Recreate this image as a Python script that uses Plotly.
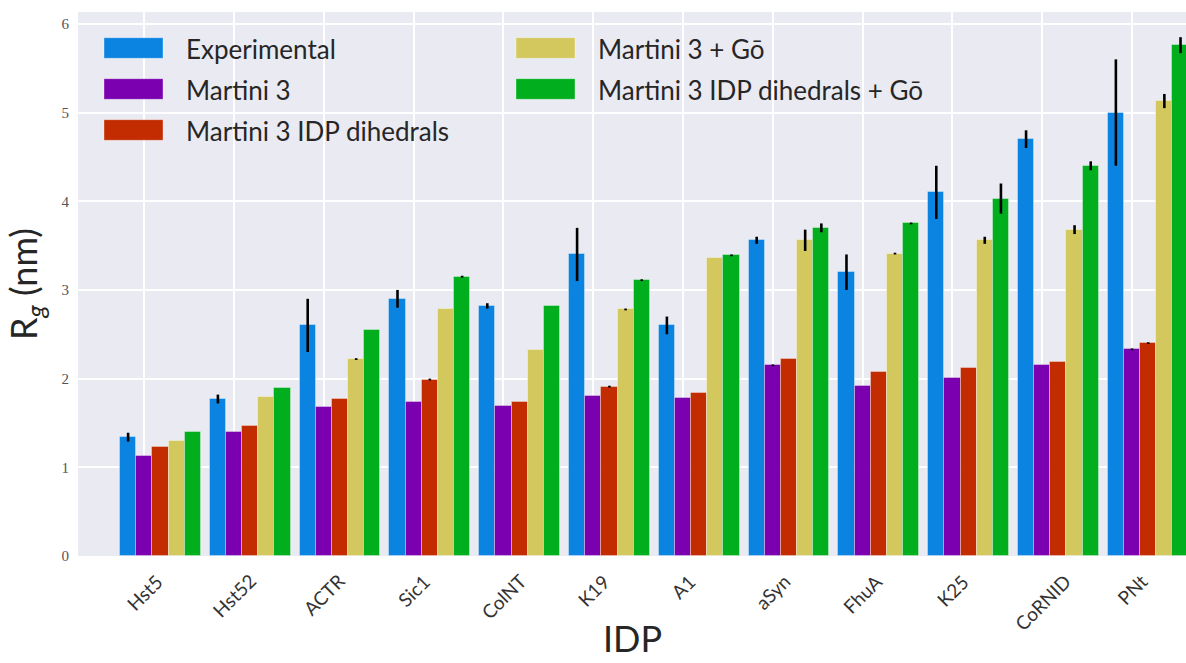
import plotly.graph_objects as go

# Radius of gyration per IDP for experiment and four Martini 3 variants
idps = ["Hst5", "Hst52", "ACTR", "Sic1", "ColNT", "K19", "A1", "aSyn",
        "FhuA", "K25", "CoRNID", "PNt"]

experimental = [1.34, 1.77, 2.60, 2.90, 2.82, 3.40, 2.60, 3.56, 3.20, 4.10, 4.70, 5.00]
experimental_err = [0.05, 0.05, 0.30, 0.10, 0.03, 0.30, 0.10, 0.04, 0.20, 0.30, 0.10, 0.60]

martini3 = [1.13, 1.40, 1.68, 1.74, 1.69, 1.80, 1.78, 2.15, 1.92, 2.01, 2.15, 2.33]
martini3_err = [0, 0, 0, 0, 0, 0, 0, 0.01, 0, 0, 0, 0.01]

idp_dihedrals = [1.23, 1.47, 1.77, 1.99, 1.74, 1.91, 1.84, 2.22, 2.08, 2.12, 2.19, 2.40]
idp_dihedrals_err = [0, 0, 0, 0.01, 0, 0.01, 0, 0, 0, 0, 0, 0.01]

martini3_go = [1.30, 1.79, 2.22, 2.79, 2.32, 2.78, 3.36, 3.56, 3.41, 3.56, 3.68, 5.13]
martini3_go_err = [0, 0, 0.01, 0, 0, 0.01, 0, 0.12, 0.01, 0.04, 0.05, 0.08]

idp_dihedrals_go = [1.40, 1.90, 2.55, 3.15, 2.82, 3.11, 3.39, 3.70, 3.75, 4.03, 4.40, 5.76]
idp_dihedrals_go_err = [0, 0, 0, 0.01, 0, 0.01, 0.01, 0.05, 0.01, 0.17, 0.05, 0.09]

series_names = ["Experimental", "Martini 3", "Martini 3 IDP dihedrals",
                "Martini 3 + Gō", "Martini 3 IDP dihedrals + Gō"]
series_values = [experimental, martini3, idp_dihedrals, martini3_go, idp_dihedrals_go]
series_errors = [experimental_err, martini3_err, idp_dihedrals_err,
                 martini3_go_err, idp_dihedrals_go_err]
series_colors = ["#0b84e1", "#7a00b0", "#c22c00", "#d3c85e", "#00ae1e"]

y_ticks = [0, 1, 2, 3, 4, 5, 6]

BAR_W = 0.18
FIG_W, FIG_H = 1186, 663
M_L, M_R, M_T, M_B = 78, 0, 12, 107
PLOT_W = FIG_W - M_L - M_R
PLOT_H = FIG_H - M_T - M_B

fig = go.Figure()
for k, (name, vals, errs, col) in enumerate(zip(series_names, series_values,
                                                  series_errors, series_colors)):
    fig.add_trace(go.Bar(
        x=idps, y=vals, name=name, width=BAR_W, offset=-1.5 * BAR_W + k * BAR_W,
        marker=dict(color=col, line=dict(color="rgba(255,255,255,0.35)", width=1)),
        error_y=dict(type="data", array=errs, color="black", thickness=2.6, width=0),
        showlegend=False,
    ))

def px_to_paper(px, py):
    return (px - M_L) / PLOT_W, (FIG_H - M_B - py) / PLOT_H

shapes = []
annotations = []

# Legend: two columns of wide colour swatches with labels
legend_cols = [(104, 184), (516, 596)]
legend_rows = [48, 89, 130]
for k, (name, col) in enumerate(zip(series_names, series_colors)):
    c, r = divmod(k, 3)
    sx, tx = legend_cols[c]
    cy = legend_rows[r]
    x0, y0 = px_to_paper(sx, cy + 10.3)
    x1, y1 = px_to_paper(sx + 59, cy - 10.3)
    shapes.append(dict(type="rect", xref="paper", yref="paper", x0=x0, x1=x1,
                       y0=y0, y1=y1, fillcolor=col,
                       line=dict(color="rgba(255,255,255,0.35)", width=1)))
    ax, ay = px_to_paper(tx, cy + 1)
    annotations.append(dict(text=name, xref="paper", yref="paper", x=ax, y=ay,
                            xanchor="left", yanchor="middle", showarrow=False,
                            font=dict(family="Lato", size=26, color="#262626")))

# Category labels, rotated and centred under each tick
for name in idps:
    annotations.append(dict(text=name, xref="x", yref="paper", x=name, y=0,
                            yshift=-11, xanchor="center", yanchor="top",
                            textangle=-45, showarrow=False,
                            font=dict(family="Lato", size=19, color="#333333")))

# x-axis title, box resting on the bottom edge of the figure
_, by = px_to_paper(0, FIG_H - 1)
annotations.append(dict(text="IDP", xref="paper", yref="paper", x=0.5, y=by,
                        xanchor="center", yanchor="bottom", showarrow=False,
                        font=dict(family="Lato", size=36, color="#262626")))

fig.update_layout(
    width=FIG_W, height=FIG_H,
    margin=dict(l=M_L, r=M_R, t=M_T, b=M_B, pad=0),
    paper_bgcolor="white", plot_bgcolor="#eaeaf2",
    barmode="overlay", bargap=0,
    shapes=shapes, annotations=annotations,
    xaxis=dict(range=[-0.738, 11.601], showticklabels=False, ticks="",
               showgrid=True, gridcolor="white", gridwidth=1.5, zeroline=False,
               showline=False, fixedrange=True),
    yaxis=dict(range=[0, 6.134], tickvals=y_ticks, ticks="",
               ticklabelstandoff=8,
               tickfont=dict(family="Liberation Serif", size=15, color="#555555"),
               showgrid=True, gridcolor="white", gridwidth=1.5, zeroline=False,
               showline=False,
               title=dict(text="R<sub><i>g</i></sub> (nm)", standoff=12,
                          font=dict(family="Lato", size=36, color="#262626"))),
)

fig.write_html("out.html")
